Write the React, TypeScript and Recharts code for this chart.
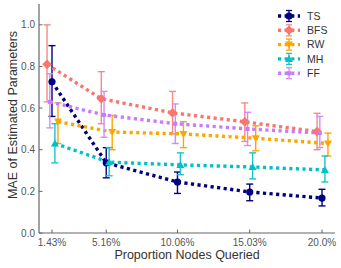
import React from "react";
import {
  ComposedChart,
  Line,
  XAxis,
  YAxis,
  ErrorBar,
  Label,
} from "recharts";

// x positions (percent of nodes queried)
const xValues = [1.43, 5.16, 10.06, 15.03, 20.0];
const xTickLabels = ["1.43%", "5.16%", "10.06%", "15.03%", "20.0%"];
const yTicks = [0, 0.2, 0.4, 0.6, 0.8, 1.0];

// mean MAE + error bar bounds for each method
const tsMean = [0.726, 0.337, 0.245, 0.197, 0.168];
const tsLow = [0.56, 0.265, 0.19, 0.155, 0.13];
const tsHigh = [0.9, 0.41, 0.293, 0.235, 0.21];

const bfsMean = [0.81, 0.645, 0.577, 0.534, 0.487];
const bfsLow = [0.63, 0.525, 0.476, 0.44, 0.4];
const bfsHigh = [1.0, 0.775, 0.68, 0.625, 0.575];

const rwMean = [0.535, 0.485, 0.476, 0.455, 0.43];
const rwLow = [0.43, 0.4, 0.41, 0.395, 0.37];
const rwHigh = [0.625, 0.565, 0.535, 0.515, 0.48];

const mhMean = [0.43, 0.34, 0.327, 0.317, 0.303];
const mhLow = [0.337, 0.275, 0.28, 0.26, 0.245];
const mhHigh = [0.525, 0.41, 0.385, 0.385, 0.37];

const ffMean = [0.63, 0.567, 0.525, 0.5, 0.48];
const ffLow = [0.505, 0.46, 0.43, 0.42, 0.41];
const ffHigh = [0.765, 0.68, 0.62, 0.58, 0.56];

type Shape = "circle" | "diamond" | "triDown" | "triUp" | "square";

interface Series {
  name: string;
  color: string;
  errColor: string;
  shape: Shape;
  dodge: number; // small horizontal shift so the error bars don't overlap
  mean: number[];
  low: number[];
  high: number[];
}

const series: Series[] = [
  { name: "TS", color: "#000080", errColor: "#000080", shape: "circle", dodge: 0, mean: tsMean, low: tsLow, high: tsHigh },
  { name: "BFS", color: "#f8766d", errColor: "#f88a85", shape: "diamond", dodge: -0.34, mean: bfsMean, low: bfsLow, high: bfsHigh },
  { name: "RW", color: "#ffa500", errColor: "#ffa500", shape: "triDown", dodge: 0.41, mean: rwMean, low: rwLow, high: rwHigh },
  { name: "MH", color: "#00c2c6", errColor: "#1ac4c8", shape: "triUp", dodge: 0.2, mean: mhMean, low: mhLow, high: mhHigh },
  { name: "FF", color: "#c77cff", errColor: "#cf8cff", shape: "square", dodge: -0.15, mean: ffMean, low: ffLow, high: ffHigh },
];

const FONT = "'Liberation Sans', Arial, sans-serif";
const AXIS = "#666";
const DASH = "3.2 3.4";

const marker = (shape: Shape, color: string, cx: number, cy: number, key?: string) => {
  switch (shape) {
    case "circle":
      return <circle key={key} cx={cx} cy={cy} r={3.6} fill={color} />;
    case "diamond":
      return (
        <polygon key={key} fill={color}
          points={`${cx},${cy - 4.8} ${cx + 4.8},${cy} ${cx},${cy + 4.8} ${cx - 4.8},${cy}`} />
      );
    case "triDown":
      return (
        <polygon key={key} fill={color}
          points={`${cx - 4},${cy - 3} ${cx + 4},${cy - 3} ${cx},${cy + 4}`} />
      );
    case "triUp":
      return (
        <polygon key={key} fill={color}
          points={`${cx - 4},${cy + 3} ${cx + 4},${cy + 3} ${cx},${cy - 4}`} />
      );
    default:
      return <rect key={key} x={cx - 2} y={cy - 2} width={4} height={4} fill={color} />;
  }
};

const buildData = (s: Series) =>
  xValues.map((x, i) => ({
    x: x + s.dodge,
    y: s.mean[i],
    err: [s.mean[i] - s.low[i], s.high[i] - s.mean[i]],
  }));

// ticks: label outside, short tick mark inside the frame
const BottomTick = (props: any) => {
  const { x, y, index } = props;
  return (
    <g>
      <line x1={x} x2={x} y1={y} y2={y - 3.5} stroke={AXIS} strokeWidth={1} />
      <text x={x} y={y + 13} textAnchor="middle" fontSize={10} fill="#555" fontFamily={FONT}>
        {xTickLabels[index]}
      </text>
    </g>
  );
};

const LeftTick = (props: any) => {
  const { x, y, payload } = props;
  return (
    <g>
      <line x1={x} x2={x + 3.5} y1={y} y2={y} stroke={AXIS} strokeWidth={1} />
      <text x={x - 4} y={y + 3.5} textAnchor="end" fontSize={10} fill="#555" fontFamily={FONT}>
        {payload.value.toFixed(1)}
      </text>
    </g>
  );
};

const TopTick = (props: any) => {
  const { x, y } = props;
  return <line x1={x} x2={x} y1={y} y2={y + 3.5} stroke={AXIS} strokeWidth={1} />;
};

const RightTick = (props: any) => {
  const { x, y, payload } = props;
  if (payload.value === 0) return <g />;
  return <line x1={x} x2={x - 3.5} y1={y} y2={y} stroke={AXIS} strokeWidth={1} />;
};

const Legend = () => (
  <svg width={70} height={86} style={{ position: "absolute", left: 274, top: 6 }}>
    {series.map((s, i) => {
      const cy = 10 + i * 14.3;
      return (
        <g key={s.name}>
          <line x1={4} x2={26} y1={cy} y2={cy} stroke={s.color} strokeWidth={3.4} strokeDasharray={DASH} />
          <line x1={15} x2={15} y1={cy - 5.5} y2={cy + 5.5} stroke={s.errColor} strokeWidth={1.3} />
          <line x1={12} x2={18} y1={cy - 5.5} y2={cy - 5.5} stroke={s.errColor} strokeWidth={1.3} />
          <line x1={12} x2={18} y1={cy + 5.5} y2={cy + 5.5} stroke={s.errColor} strokeWidth={1.3} />
          {marker(s.shape, s.color, 15, cy)}
          <text x={33} y={cy + 3.8} fontSize={10.5} fill="#333" fontFamily={FONT}>
            {s.name}
          </text>
        </g>
      );
    })}
  </svg>
);

export default function App() {
  return (
    <div style={{ position: "absolute", left: 0, top: 0, width: 341, height: 268, background: "#fff" }}>
      <ComposedChart width={341} height={268} margin={{ top: 4, right: 6, bottom: 0, left: 0 }}>
        <XAxis
          xAxisId="b"
          dataKey="x"
          type="number"
          domain={[0.536, 20.894]}
          ticks={xValues}
          interval={0}
          height={35}
          tickSize={0}
          tickMargin={0}
          tickLine={false}
          tick={<BottomTick />}
          axisLine={{ stroke: AXIS, strokeWidth: 1.2 }}
          allowDataOverflow
        >
          <Label
            content={() => (
              <text x={187} y={259} textAnchor="middle" fontSize={12.5} fill="#333" fontFamily={FONT}>
                Proportion Nodes Queried
              </text>
            )}
          />
        </XAxis>
        <XAxis
          xAxisId="t"
          orientation="top"
          type="number"
          domain={[0.536, 20.894]}
          ticks={xValues}
          interval={0}
          height={0}
          tickSize={0}
          tickMargin={0}
          tickLine={false}
          tick={<TopTick />}
          axisLine={{ stroke: AXIS, strokeWidth: 1.2 }}
          allowDataOverflow
        />
        <YAxis
          yAxisId="l"
          type="number"
          domain={[0, 1.1]}
          ticks={yTicks}
          interval={0}
          width={39}
          tickSize={0}
          tickMargin={0}
          tickLine={false}
          tick={<LeftTick />}
          axisLine={{ stroke: AXIS, strokeWidth: 1.2 }}
          allowDataOverflow
        >
          <Label
            content={() => (
              <text
                x={16.5}
                y={115}
                transform="rotate(-90 16.5 115)"
                textAnchor="middle"
                fontSize={12.5}
                fill="#333"
                fontFamily={FONT}
              >
                MAE of Estimated Parameters
              </text>
            )}
          />
        </YAxis>
        <YAxis
          yAxisId="r"
          orientation="right"
          type="number"
          domain={[0, 1.1]}
          ticks={yTicks}
          interval={0}
          width={0}
          tickSize={0}
          tickMargin={0}
          tickLine={false}
          tick={<RightTick />}
          axisLine={{ stroke: AXIS, strokeWidth: 1.2 }}
          allowDataOverflow
        />

        {series.map((s) => (
          <Line
            key={s.name}
            xAxisId="b"
            yAxisId="l"
            data={buildData(s)}
            dataKey="y"
            name={s.name}
            stroke={s.color}
            strokeWidth={3.4}
            strokeDasharray={DASH}
            isAnimationActive={false}
            dot={(p: any) => marker(s.shape, s.color, p.cx, p.cy, `${s.name}-${p.index}`)}
            activeDot={false}
          >
            <ErrorBar
              dataKey="err"
              direction="y"
              width={3.5}
              stroke={s.errColor}
              strokeWidth={1.4}
              isAnimationActive={false}
            />
          </Line>
        ))}
      </ComposedChart>
      <Legend />
    </div>
  );
}
